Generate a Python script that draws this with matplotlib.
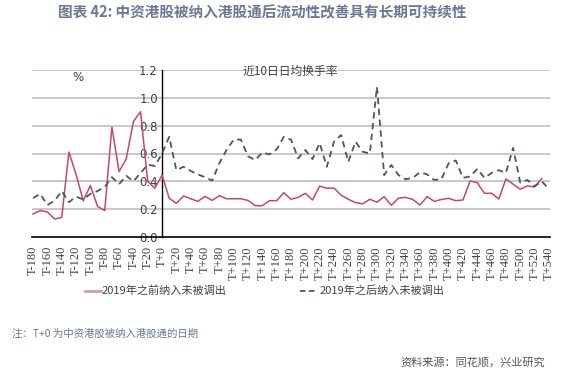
import matplotlib
matplotlib.use('Agg')
import matplotlib.pyplot as plt
from matplotlib.lines import Line2D

plt.rcParams['font.family'] = ['Noto Sans CJK SC', 'DejaVu Sans']

# x positions (days relative to inclusion date)
days_before = list(range(-180, 540, 10))   # red series: T-180 .. T+530
days_after = list(range(-180, 550, 10))    # dashed series: T-180 .. T+540

red_vals = [0.165, 0.19, 0.18, 0.13, 0.14, 0.61, 0.45, 0.26, 0.37, 0.22, 0.19, 0.79,
            0.47, 0.56, 0.83, 0.90, 0.40, 0.35, 0.445,
            0.278, 0.242, 0.295, 0.275, 0.256, 0.292, 0.263, 0.297, 0.275, 0.275,
            0.275, 0.263, 0.225, 0.225, 0.261, 0.261, 0.318, 0.271,
            0.285, 0.314, 0.266, 0.366, 0.35, 0.352, 0.30, 0.271, 0.247, 0.238,
            0.271, 0.25, 0.29, 0.228,
            0.279, 0.285, 0.27, 0.23, 0.29, 0.256, 0.27, 0.278, 0.261, 0.266,
            0.402, 0.39, 0.314, 0.314, 0.273, 0.417, 0.38, 0.343, 0.367, 0.36, 0.42]

dash_vals = [0.28, 0.31, 0.23, 0.26, 0.33, 0.25, 0.29, 0.27, 0.31, 0.33, 0.36, 0.43,
             0.38, 0.44, 0.40, 0.46, 0.52, 0.51,
             0.60, 0.72, 0.48, 0.505, 0.475, 0.45, 0.43, 0.405, 0.53, 0.625, 0.70,
             0.70, 0.58, 0.553, 0.606, 0.594, 0.63, 0.72, 0.70,
             0.565, 0.625, 0.56, 0.675, 0.505, 0.685, 0.733, 0.54, 0.685, 0.613,
             0.60, 1.08, 0.445, 0.517,
             0.445, 0.415, 0.425, 0.465, 0.45, 0.41, 0.415, 0.53, 0.55, 0.425,
             0.435, 0.49, 0.425, 0.46, 0.48, 0.46, 0.64, 0.39, 0.41, 0.365, 0.40, 0.345]

tick_days = list(range(-180, 560, 20))
tick_labels = [f"T{d:+d}" if d != 0 else "T+0" for d in tick_days]
y_ticks = [0.0, 0.2, 0.4, 0.6, 0.8, 1.0, 1.2]

title = "图表 42: 中资港股被纳入港股通后流动性改善具有长期可持续性"
name_red = "2019年之前纳入未被调出"
name_dash = "2019年之后纳入未被调出"
note = "注：T+0 为中资港股被纳入港股通的日期"
source = "资料来源：同花顺，兴业研究"

W, H = 585, 376
fig = plt.figure(figsize=(W / 100, H / 100), dpi=100)
fig.patch.set_facecolor('white')

x0, x1 = 32, 550
ytop, ybot = 70, 237
ax = fig.add_axes([x0 / W, 1 - ybot / H, (x1 - x0) / W, (ybot - ytop) / H])
ax.set_xlim(-181.5, 541.5)
ax.set_ylim(0, 1.2)

for y in y_ticks[1:]:
    ax.axhline(y, color='#c8c8c8', lw=1.4, zorder=1)

red_c = '#c4486a'
dash_c = '#4a5568'
ax.plot(days_before, red_vals, color=red_c, lw=1.1, zorder=3)
ax.plot(days_after, dash_vals, color=dash_c, lw=1.3, dashes=(3.5, 2.5), zorder=3)

for s in ['top', 'right']:
    ax.spines[s].set_visible(False)
ax.spines['left'].set_position(('data', 0))
ax.spines['left'].set_color('black')
ax.spines['left'].set_linewidth(1.0)
ax.spines['bottom'].set_color('black')
ax.spines['bottom'].set_linewidth(1.2)

ax.set_yticks(y_ticks)
ax.set_yticklabels([f"{v:.1f}" for v in y_ticks], fontsize=8.5,
                   color='#404040', family='DejaVu Sans')
ax.tick_params(axis='y', length=0, pad=3)
ax.set_xticks(tick_days)
ax.set_xticklabels(tick_labels, rotation=90, fontsize=9, color='#404040',
                   family='Liberation Serif', va='top')
ax.tick_params(axis='x', length=0, pad=6.5)

ax.text(-117, 1.145, "%", fontsize=8.5, color='#404040', ha='center', va='center',
        family='DejaVu Sans')
ax.text(112, 1.19, "近10日日均换手率", fontsize=8.5, color='#404040', ha='left',
        va='center')

# title
fig.text(262 / W, 1 - 12 / H, title, ha='center', va='center', fontsize=10.5,
         fontweight='bold', color='#6b7894')

# legend
ly = 1 - 291 / H
fig.add_artist(Line2D([85 / W, 101 / W], [ly, ly], color='#d4a0a8', lw=2,
                      transform=fig.transFigure))
fig.text(102 / W, ly, name_red, fontsize=8, color='#404040', va='center')
fig.add_artist(Line2D([300 / W, 318 / W], [ly, ly], color=dash_c, lw=1.3,
                      dashes=(3, 2), transform=fig.transFigure))
fig.text(320 / W, ly, name_dash, fontsize=8, color='#404040', va='center')

fig.text(12 / W, 1 - 334 / H, note, fontsize=7.5, color='#6b7894', va='center')
fig.text(545 / W, 1 - 362 / H, source, fontsize=8, color='#555555', va='center',
         ha='right')

fig.savefig('out.png', dpi=100, facecolor='white')
